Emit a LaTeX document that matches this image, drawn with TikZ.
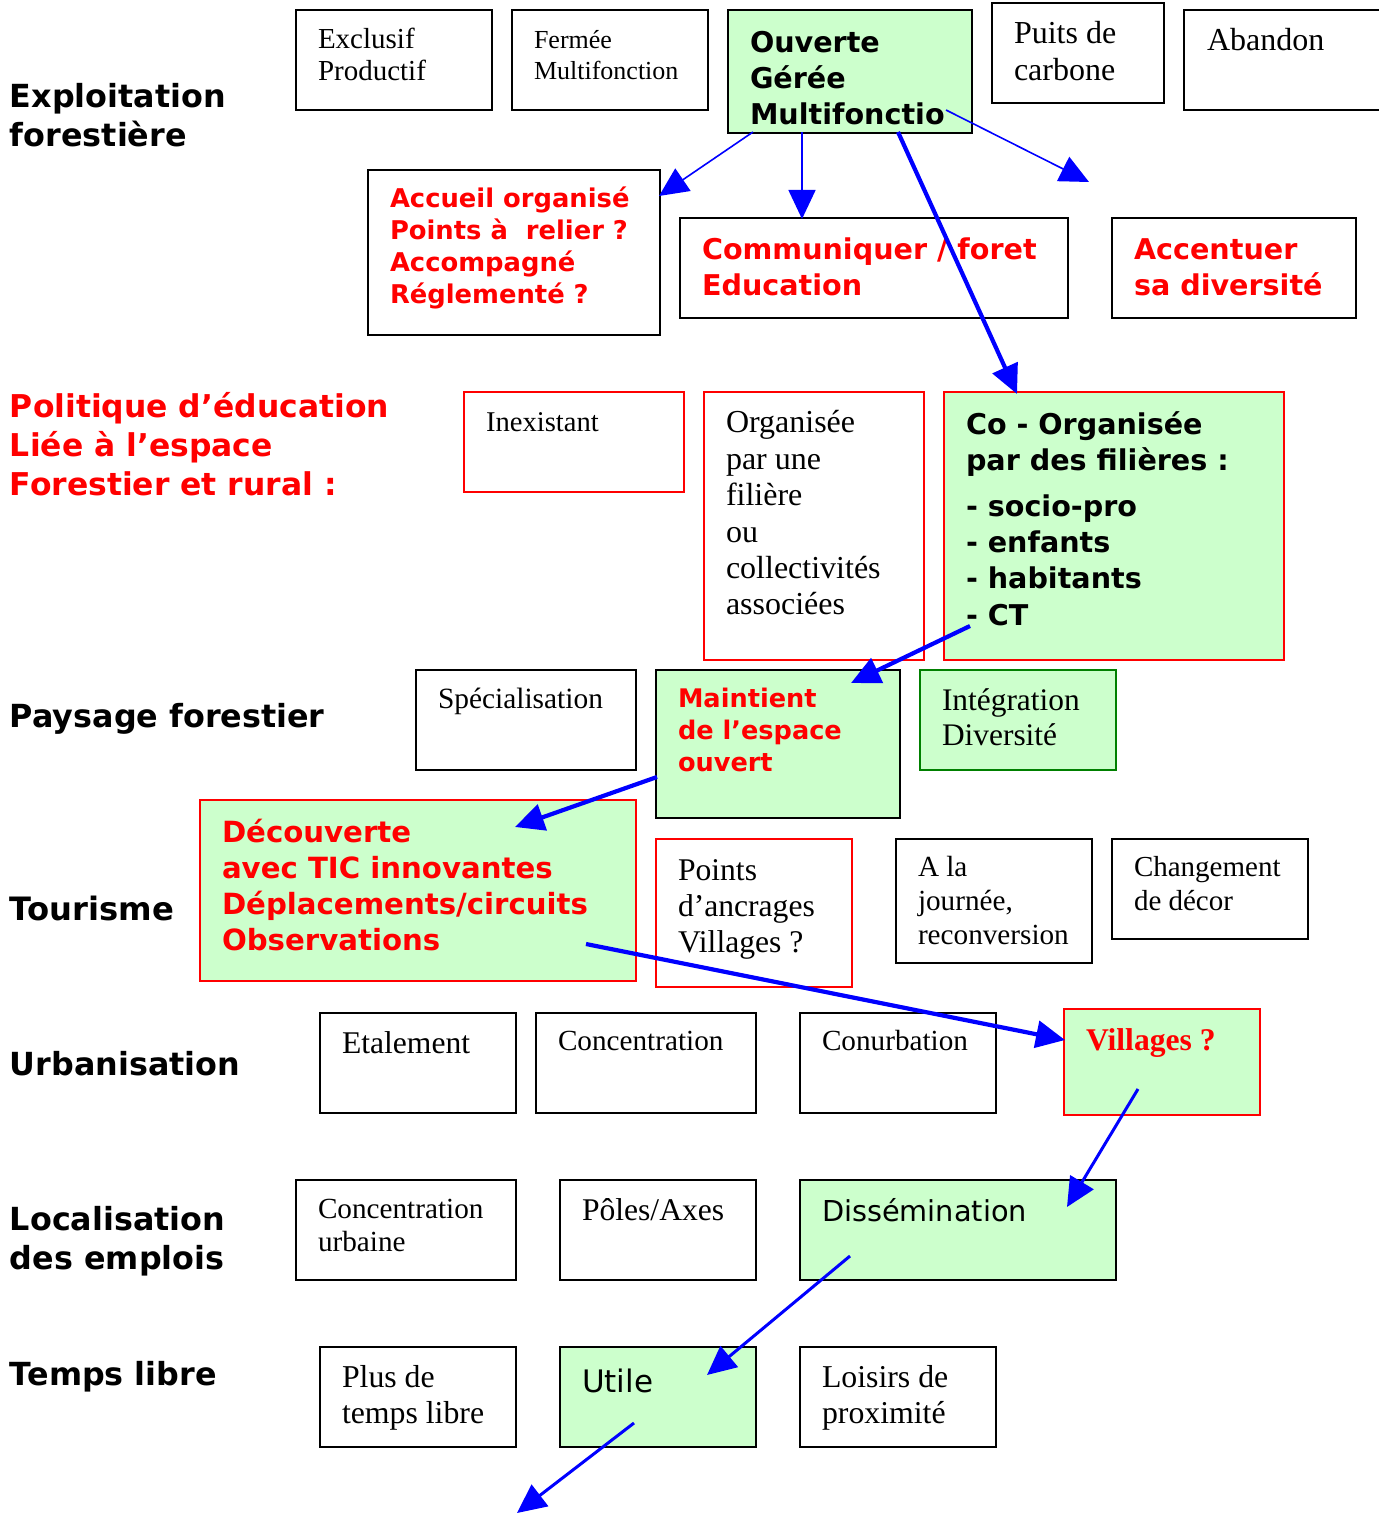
\documentclass[tikz,border=0pt]{standalone}
\usepackage{fontspec}
\setmainfont{Liberation Serif}
\newfontfamily\dvs{DejaVu Sans}
\usetikzlibrary{arrows.meta}
\definecolor{lg}{RGB}{204,255,204}
\definecolor{bl}{RGB}{0,0,255}
\definecolor{rd}{RGB}{255,0,0}
\definecolor{dg}{RGB}{0,128,0}
\tikzset{
 bxk/.style={draw=black, line width=0.6pt},
 bxr/.style={draw=rd, line width=0.6pt},
 bxgk/.style={draw=black, fill=lg, line width=0.6pt},
 bxgr/.style={draw=rd, fill=lg, line width=0.6pt},
 bxgg/.style={draw=dg, fill=lg, line width=0.6pt},
 lbl/.style={},
 arr/.style={draw=bl, -{Triangle[length=14.5pt,width=13.5pt]}},
 arrA/.style={arr, line width=0.8pt},
 arrB/.style={arr, line width=1.5pt},
 arrC/.style={arr, line width=2.1pt},
}
\newcommand\FSR[2]{\rmfamily\mdseries\fontsize{#1pt}{#2pt}\selectfont}
\newcommand\FSRB[2]{\rmfamily\bfseries\fontsize{#1pt}{#2pt}\selectfont}
\newcommand\FSS[2]{\dvs\mdseries\fontsize{#1pt}{#2pt}\selectfont}
\newcommand\FSSB[2]{\dvs\bfseries\fontsize{#1pt}{#2pt}\selectfont}
\newcommand\tp[1]{\vspace*{\dimexpr #1pt/2-0.7\baselineskip\relax}\strut}
% name, style, x, y, w, h, padx, (unused), content
\newcommand\Bx[9]{\node[#2,anchor=north west,inner sep=0pt,outer sep=0pt] (#1) at (#3,#4) {\begin{minipage}[t][\dimexpr #6pt/2\relax][t]{\dimexpr #5pt/2\relax}\raggedright\rightskip=0pt plus 1fil minus 200pt\leftskip=\dimexpr #7pt/2\relax\relax\parindent=0pt #9\end{minipage}};}
\begin{document}
\begin{tikzpicture}[x=0.5pt,y=-0.5pt]
\fill[white] (0,0) rectangle (1378,1513);
\useasboundingbox (0,0) rectangle (1378,1513);
% left labels
\Bx{l1}{lbl}{10}{68}{440}{100}{0}{}{\FSSB{15.9}{19.5}\tp{40}Exploitation\\forestière}
\Bx{l2}{lbl,text=rd}{10}{378}{440}{140}{0}{}{\FSSB{15.7}{19.3}\tp{40}Politique d’éducation\\Liée à l’espace\\Forestier et rural :}
\Bx{l3}{lbl}{10}{687}{400}{60}{0}{}{\FSSB{15.9}{19.5}\tp{40}Paysage forestier}
\Bx{l4}{lbl}{10}{880}{190}{60}{0}{}{\FSSB{16.1}{19.5}\tp{40}Tourisme}
\Bx{l5}{lbl}{10}{1035}{300}{60}{0}{}{\FSSB{15.9}{19.5}\tp{40}Urbanisation}
\Bx{l6}{lbl}{10}{1190}{280}{100}{0}{}{\FSSB{15.9}{19.5}\tp{40}Localisation\\des emplois}
\Bx{l7}{lbl}{10}{1345}{280}{60}{0}{}{\FSSB{15.9}{19.5}\tp{40}Temps libre}
% row 1
\Bx{exc}{bxk}{296}{10}{196}{100}{22}{}{\FSR{14.5}{16}\tp{39}Exclusif\\Productif}
\Bx{fer}{bxk}{512}{10}{196}{100}{22}{}{\FSR{13}{15.5}\tp{39}Fermée\\Multifonction}
\Bx{ouv}{bxgk}{728}{10}{244}{123}{22}{}{\FSSB{14.3}{18}\tp{43}Ouverte\\Gérée\\Multifonctio}
\Bx{pui}{bxk}{992}{3}{172}{100}{22}{}{\FSR{16}{18.5}\tp{41}Puits de\\carbone}
\Bx{aba}{bxk}{1184}{10}{210}{100}{23}{}{\FSR{16}{18.5}\tp{41}Abandon}
% row 2
\Bx{acc}{bxk}{368}{170}{292}{165}{22}{}{\color{rd}\FSSB{12.9}{16}\tp{38}Accueil organisé\\Points à\ \ relier ?\\Accompagné\\Réglementé ?}
\Bx{com}{bxk}{680}{218}{388}{100}{22}{}{\color{rd}\FSSB{14.3}{18}\tp{42}Communiquer / foret\\Education}
\Bx{ace}{bxk}{1112}{218}{244}{100}{22}{}{\color{rd}\FSSB{14.3}{18}\tp{42}Accentuer\\sa diversité}
% row 3
\Bx{ine}{bxr}{464}{392}{220}{100}{22}{}{\FSR{14.3}{16}\tp{40}Inexistant}
\Bx{org}{bxr}{704}{392}{220}{268}{22}{}{\FSR{16}{18.2}\tp{41}Organisée\\par une\\filière\\ou\\collectivités\\associées}
\Bx{coo}{bxgr}{944}{392}{340}{268}{22}{}{\FSSB{14.3}{18}\tp{43}Co - Organisée\\par des filières :\\[5pt]- socio-pro\\- enfants\\- habitants\\- CT}
% row 4
\Bx{spe}{bxk}{416}{670}{220}{100}{22}{}{\FSR{14.7}{16}\tp{38}Spécialisation}
\Bx{mai}{bxgk}{656}{670}{244}{148}{22}{}{\color{rd}\FSSB{12.8}{16}\tp{37}Maintient\\de l’espace\\ouvert}
\Bx{int}{bxgg}{920}{670}{196}{100}{22}{}{\FSR{15.7}{17.5}\tp{40}Intégration\\Diversité}
% row 5
\Bx{dec}{bxgr}{200}{800}{436}{181}{22}{}{\color{rd}\FSSB{14.6}{18}\tp{42}Découverte\\avec TIC innovantes\\Déplacements/circuits\\Observations}
\Bx{poi}{bxr}{656}{839}{196}{148}{22}{}{\FSR{15.8}{18}\tp{41}Points\\d’ancrages\\Villages ?}
\Bx{ala}{bxk}{896}{839}{196}{124}{22}{}{\FSR{14.6}{17}\tp{37}A la\\journée,\\reconversion}
\Bx{cha}{bxk}{1112}{839}{196}{100}{22}{}{\FSR{14.5}{17}\tp{37}Changement\\de décor}
% row 6
\Bx{eta}{bxk}{320}{1013}{196}{100}{22}{}{\FSR{15.8}{18}\tp{40}Etalement}
\Bx{con}{bxk}{536}{1013}{220}{100}{22}{}{\FSR{14.6}{17}\tp{37}Concentration}
\Bx{cnb}{bxk}{800}{1013}{196}{100}{22}{}{\FSR{14.6}{17}\tp{37}Conurbation}
\Bx{vil}{bxgr}{1064}{1009}{196}{106}{22}{}{\color{rd}\FSRB{15.8}{18}\tp{41}Villages ?}
% row 7
\Bx{cur}{bxk}{296}{1180}{220}{100}{22}{}{\FSR{14.6}{16.5}\tp{38}Concentration\\urbaine}
\Bx{pol}{bxk}{560}{1180}{196}{100}{22}{}{\FSR{15.8}{18}\tp{40}Pôles/Axes}
\Bx{dis}{bxgk}{800}{1180}{316}{100}{22}{}{\FSS{14.4}{18}\tp{41}Dissémination}
% row 8
\Bx{plu}{bxk}{320}{1347}{196}{100}{22}{}{\FSR{15.9}{18}\tp{40}Plus de\\temps libre}
\Bx{uti}{bxgk}{560}{1347}{196}{100}{22}{}{\FSS{15.5}{18}\tp{45}Utile}
\Bx{loi}{bxk}{800}{1347}{196}{100}{22}{}{\FSR{15.9}{18}\tp{40}Loisirs de\\proximité}
% arrow end points
\coordinate (a1s) at (753,132); \coordinate (a1e) at (659,196);
\coordinate (a2s) at (802,132); \coordinate (a2e) at (802,219);
\coordinate (a3s) at (898,132); \coordinate (a3e) at (1017,394);
\coordinate (a4s) at (946,110); \coordinate (a4e) at (1089,182);
\coordinate (a5s) at (970,626); \coordinate (a5e) at (851,683);
\coordinate (a6s) at (657,777); \coordinate (a6e) at (515,827);
\coordinate (a7s) at (586,944); \coordinate (a7e) at (1065,1040);
\coordinate (a8s) at (1138,1089); \coordinate (a8e) at (1067,1207);
\coordinate (a9s) at (850,1256); \coordinate (a9e) at (707,1375);
\coordinate (a10s) at (634,1423); \coordinate (a10e) at (517,1513);
% arrows
\draw[arrA] (a1s) -- (a1e);
\draw[arrA] (a2s) -- (a2e);
\draw[arrC] (a3s) -- (a3e);
\draw[arrA] (a4s) -- (a4e);
\draw[arrC] (a5s) -- (a5e);
\draw[arrC] (a6s) -- (a6e);
\draw[arrC] (a7s) -- (a7e);
\draw[arrB] (a8s) -- (a8e);
\draw[arrB] (a9s) -- (a9e);
\draw[arrB] (a10s) -- (a10e);
\end{tikzpicture}
\end{document}
